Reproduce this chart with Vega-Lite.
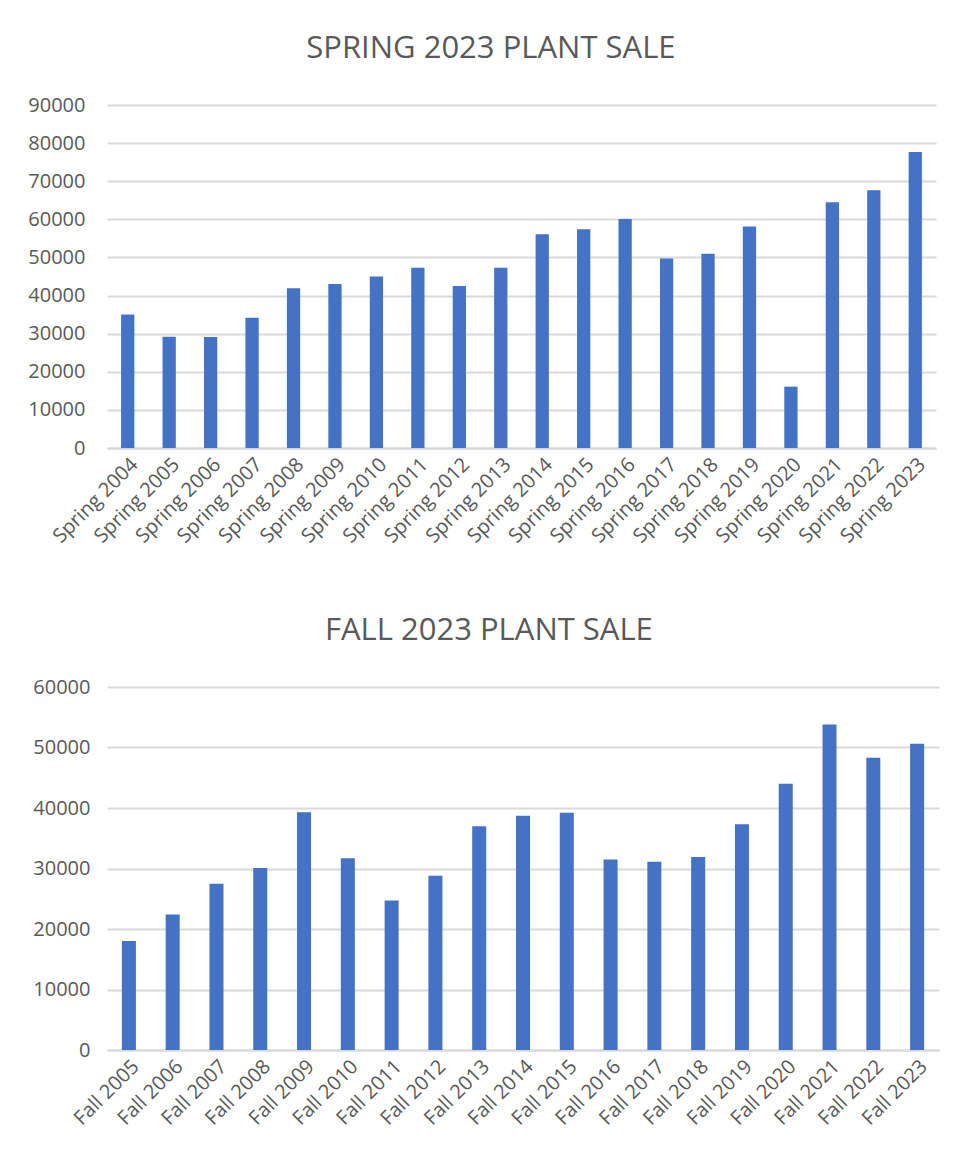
{
  "$schema": "https://vega.github.io/schema/vega-lite/v6.json",
  "background": "white",
  "padding": {"left": 27, "top": 33, "right": 20, "bottom": 10},
  "datasets": {
    "spring": [
      {"season": "Spring 2004", "sales": 35000},
      {"season": "Spring 2005", "sales": 29200},
      {"season": "Spring 2006", "sales": 29100},
      {"season": "Spring 2007", "sales": 34200},
      {"season": "Spring 2008", "sales": 41900},
      {"season": "Spring 2009", "sales": 43000},
      {"season": "Spring 2010", "sales": 45000},
      {"season": "Spring 2011", "sales": 47300},
      {"season": "Spring 2012", "sales": 42500},
      {"season": "Spring 2013", "sales": 47300},
      {"season": "Spring 2014", "sales": 56100},
      {"season": "Spring 2015", "sales": 57400},
      {"season": "Spring 2016", "sales": 60100},
      {"season": "Spring 2017", "sales": 49700},
      {"season": "Spring 2018", "sales": 51000},
      {"season": "Spring 2019", "sales": 58100},
      {"season": "Spring 2020", "sales": 16100},
      {"season": "Spring 2021", "sales": 64500},
      {"season": "Spring 2022", "sales": 67600},
      {"season": "Spring 2023", "sales": 77700}
    ],
    "fall": [
      {"season": "Fall 2005", "sales": 18000},
      {"season": "Fall 2006", "sales": 22400},
      {"season": "Fall 2007", "sales": 27500},
      {"season": "Fall 2008", "sales": 30100},
      {"season": "Fall 2009", "sales": 39300},
      {"season": "Fall 2010", "sales": 31700},
      {"season": "Fall 2011", "sales": 24700},
      {"season": "Fall 2012", "sales": 28800},
      {"season": "Fall 2013", "sales": 37000},
      {"season": "Fall 2014", "sales": 38700},
      {"season": "Fall 2015", "sales": 39200},
      {"season": "Fall 2016", "sales": 31500},
      {"season": "Fall 2017", "sales": 31100},
      {"season": "Fall 2018", "sales": 31900},
      {"season": "Fall 2019", "sales": 37300},
      {"season": "Fall 2020", "sales": 44000},
      {"season": "Fall 2021", "sales": 53800},
      {"season": "Fall 2022", "sales": 48300},
      {"season": "Fall 2023", "sales": 50600}
    ]
  },
  "config": {
    "font": "Open Sans",
    "view": {"stroke": null},
    "title": {"font": "Open Sans", "fontSize": 31, "fontWeight": "normal", "color": "#595959", "anchor": "middle", "frame": "bounds", "offset": 30},
    "axis": {"labelFont": "Open Sans", "labelColor": "#595959", "ticks": false, "title": null, "gridColor": "#d9d9d9", "gridWidth": 2, "domainColor": "#d9d9d9", "domainWidth": 2},
    "bar": {"color": "#4472C4"}
  },
  "spacing": 68,
  "vconcat": [
    {
      "title": {"text": "SPRING 2023 PLANT SALE", "dx": 9},
      "width": 829,
      "height": 343,
      "data": {"name": "spring"},
      "mark": {"type": "bar"},
      "encoding": {
        "x": {"field": "season", "type": "nominal", "sort": null,
              "scale": {"paddingInner": 0.68, "paddingOuter": 0.34},
              "axis": {"labelAngle": -45, "labelFontSize": 20, "labelPadding": 6, "grid": false, "domain": true}},
        "y": {"field": "sales", "type": "quantitative",
              "scale": {"domain": [0, 90000]},
              "axis": {"values": [0, 10000, 20000, 30000, 40000, 50000, 60000, 70000, 80000, 90000], "format": "d", "labelFontSize": 20, "labelPadding": 22, "domain": false, "grid": true}}
      }
    },
    {
      "title": {"text": "FALL 2023 PLANT SALE", "dx": 3},
      "width": 832,
      "height": 363,
      "data": {"name": "fall"},
      "mark": {"type": "bar"},
      "encoding": {
        "x": {"field": "season", "type": "nominal", "sort": null,
              "scale": {"paddingInner": 0.68, "paddingOuter": 0.34},
              "axis": {"labelAngle": -45, "labelFontSize": 20, "labelPadding": 6, "grid": false, "domain": true}},
        "y": {"field": "sales", "type": "quantitative",
              "scale": {"domain": [0, 60000]},
              "axis": {"values": [0, 10000, 20000, 30000, 40000, 50000, 60000], "format": "d", "labelFontSize": 20, "labelPadding": 17, "domain": false, "grid": true}}
      }
    }
  ]
}
